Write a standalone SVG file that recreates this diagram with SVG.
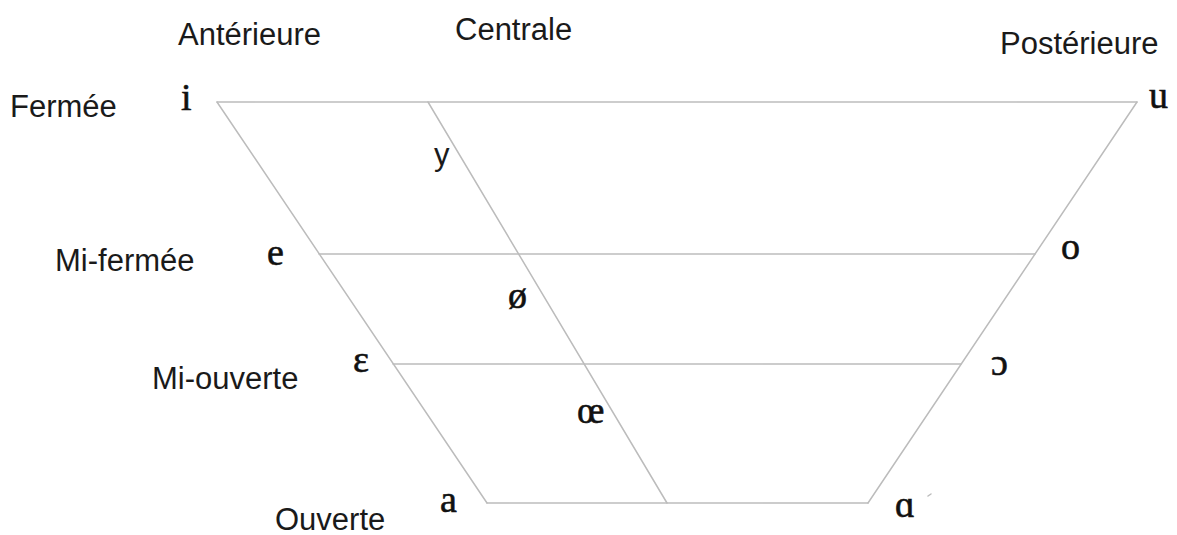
<svg xmlns="http://www.w3.org/2000/svg" width="1177" height="535" viewBox="0 0 1177 535">
<style>
.ln{stroke:#bcbcbc;stroke-width:1.5;fill:none;stroke-linecap:round}
.lab{font-family:"Liberation Sans",Arial,sans-serif;font-size:31px;fill:#1a1a1a}
.v{font-family:"Liberation Serif","Times New Roman",serif;font-size:38px;fill:#111;stroke:#111;stroke-width:0.6}
</style>
<rect width="1177" height="535" fill="#fff"/>
<g id="connectors">
<line class="ln" x1="217" y1="102" x2="1137" y2="102"/>
<line class="ln" x1="217" y1="102" x2="487" y2="503"/>
<line class="ln" x1="487" y1="503" x2="868" y2="503"/>
<line class="ln" x1="1137" y1="102" x2="868" y2="503"/>
<line class="ln" x1="428" y1="102" x2="667" y2="503"/>
<line class="ln" x1="319" y1="254" x2="1035" y2="254"/>
<line class="ln" x1="393" y1="364" x2="961" y2="364"/>
<line class="ln" x1="928" y1="496" x2="931" y2="494"/>
</g>
<g id="headers">
<text class="lab" x="178" y="45">Antérieure</text>
<text class="lab" x="455" y="40">Centrale</text>
<text class="lab" x="1000" y="54">Postérieure</text>
</g>
<g id="rows">
<text class="lab" x="10" y="117">Fermée</text>
<text class="lab" x="55" y="271">Mi-fermée</text>
<text class="lab" x="152" y="389">Mi-ouverte</text>
<text class="lab" x="275" y="530">Ouverte</text>
</g>
<g id="v-i"><text class="v" x="181" y="110">i</text></g>
<g id="v-u"><text class="v" x="1149" y="108">u</text></g>
<g id="v-y"><text class="lab" x="434" y="165">y</text></g>
<g id="v-e"><text class="v" x="267" y="265">e</text></g>
<g id="v-o"><text class="v" x="1061" y="259">o</text></g>
<g id="v-oe"><text class="v" x="508" y="308">ø</text></g>
<g id="v-eps"><text class="v" x="353" y="372">ɛ</text></g>
<g id="v-open-o"><text class="v" x="991" y="375">ɔ</text></g>
<g id="v-oelig"><text class="v" x="577" y="423">œ</text></g>
<g id="v-a"><text class="v" x="440" y="512">a</text></g>
<g id="v-alpha"><text class="v" x="895" y="517">ɑ</text></g>
</svg>
